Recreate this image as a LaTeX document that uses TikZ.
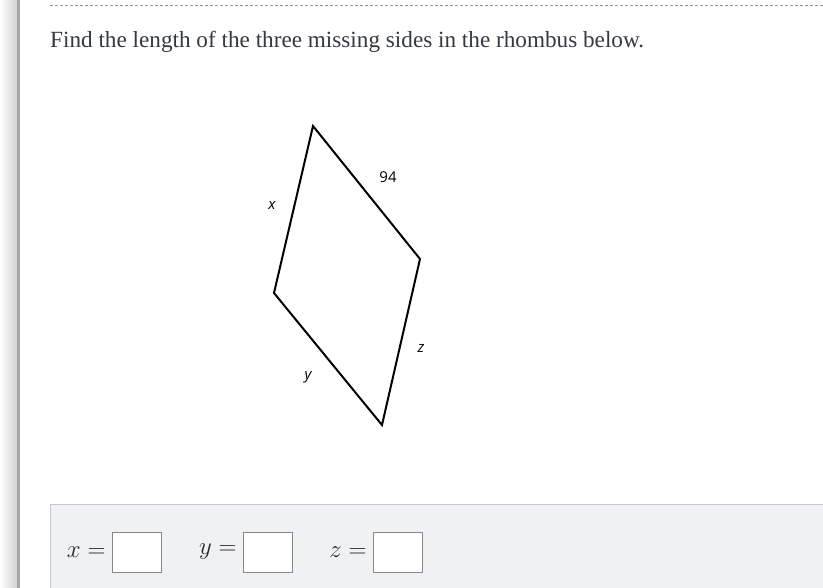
\documentclass[tikz,border=0pt]{standalone}
\usepackage{fontspec}
\setmainfont{Liberation Serif}
\newfontfamily\labelfont{Open Sans}
\usetikzlibrary{positioning}

\definecolor{textgray}{HTML}{333A41}
\definecolor{panelgray}{HTML}{F0F1F3}
\definecolor{boxgray}{HTML}{888888}

\tikzset{
    sidelabel/.style={font=\labelfont\fontsize{15}{17}\selectfont, inner sep=0pt},
    answerbox/.style={draw=boxgray, fill=white, minimum width=49pt, minimum height=40pt, inner sep=0pt},
    answerlabel/.style={font=\fontsize{26}{28}\selectfont, text=black!85, inner sep=0pt}
}

\begin{document}
\begin{tikzpicture}[x=1pt, y=-1pt]
    \useasboundingbox (0,0) rectangle (823,588);
    \fill[white] (0,0) rectangle (823,588);
    % left bar
    \shade[left color=white, right color=black!18] (0,0) rectangle (17,588);
    \fill[black!35] (17,0) rectangle (20,588);
    % top dashed rule
    \draw[black!40, dash pattern=on 3pt off 2pt] (50,5) -- (823,5);

    \node[anchor=base west, inner sep=0pt, text=textgray, font=\fontsize{23.2}{26}\selectfont] (title) at (50,48) {Find the length of the three missing sides in the rhombus below.};

    % rhombus
    \coordinate (top) at (313,126);
    \coordinate (right) at (420,259);
    \coordinate (bottom) at (382,425);
    \coordinate (left) at (274,293);
    \draw[line width=2pt, line join=miter] (top) -- (right) -- (bottom) -- (left) -- cycle;

    \node[sidelabel] (a) at (388,177) {94};
    \node[sidelabel] (x) at (272,205) {\itshape x};
    \node[sidelabel] (z) at (421,348) {\itshape z};
    \node[sidelabel] (y) at (308,377) {\itshape y};

    % answer panel
    \fill[panelgray] (50,504) rectangle (823,588);
    \draw[black!22] (50,588) -- (50,504) -- (823,504);

    \node[answerbox] (bx) at (136.5,552) {};
    \node[answerbox] (by) at (267.5,552) {};
    \node[answerbox] (bz) at (397.5,552) {};
    \node[answerlabel, left=6pt of bx] (lx) {$x =$};
    \node[answerlabel, left=6pt of by] (ly) {$y =$};
    \node[answerlabel, left=6pt of bz] (lz) {$z =$};
\end{tikzpicture}
\end{document}
